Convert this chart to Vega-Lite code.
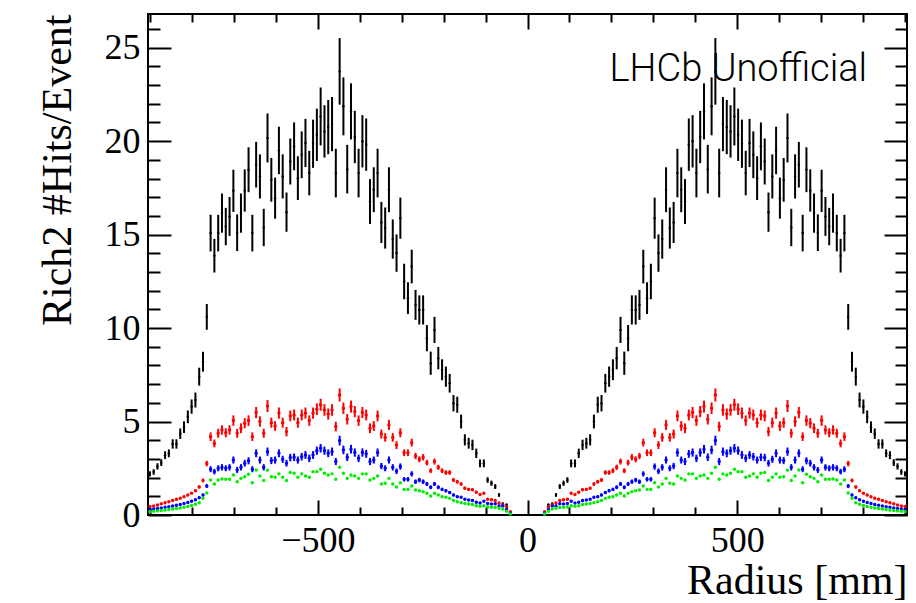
{
"$schema":"https://vega.github.io/schema/vega-lite/v6.json",
"width":759,"height":501,
"autosize":"none",
"padding":{"left":148,"top":14,"right":9,"bottom":88},
"background":"white",
"config":{"view":{"stroke":"black","strokeWidth":2},
"axis":{"labelFont":"Liberation Serif","titleFont":"Liberation Serif","labelColor":"black","titleColor":"black","tickColor":"black","domain":false,"grid":false,"titleFontWeight":"normal","tickWidth":2,"labelFontSize":36,"titleFontSize":42}},
"data":{"values":[
{"x":-900.5,"k":2.2,"ek":0.14,"r":0.45,"er":0.03,"b":0.30,"eb":0.02,"g":0.18},
{"x":-891.5,"k":2.3,"ek":0.15,"r":0.48,"er":0.03,"b":0.32,"eb":0.02,"g":0.20},
{"x":-882.4,"k":2.6,"ek":0.17,"r":0.54,"er":0.03,"b":0.35,"eb":0.02,"g":0.22},
{"x":-873.4,"k":2.8,"ek":0.18,"r":0.60,"er":0.03,"b":0.38,"eb":0.02,"g":0.24},
{"x":-864.3,"k":3.2,"ek":0.21,"r":0.66,"er":0.04,"b":0.41,"eb":0.03,"g":0.26},
{"x":-855.3,"k":3.3,"ek":0.21,"r":0.71,"er":0.04,"b":0.44,"eb":0.03,"g":0.29},
{"x":-846.2,"k":3.8,"ek":0.25,"r":0.77,"er":0.04,"b":0.48,"eb":0.03,"g":0.32},
{"x":-837.2,"k":3.8,"ek":0.25,"r":0.84,"er":0.05,"b":0.52,"eb":0.03,"g":0.35},
{"x":-828.1,"k":4.35,"ek":0.28,"r":0.90,"er":0.05,"b":0.56,"eb":0.04,"g":0.38},
{"x":-819.1,"k":4.7,"ek":0.31,"r":0.98,"er":0.05,"b":0.61,"eb":0.04,"g":0.42},
{"x":-810.0,"k":5.25,"ek":0.34,"r":1.07,"er":0.06,"b":0.67,"eb":0.04,"g":0.46},
{"x":-801.0,"k":5.8,"ek":0.38,"r":1.17,"er":0.06,"b":0.74,"eb":0.05,"g":0.51},
{"x":-791.9,"k":6.15,"ek":0.4,"r":1.30,"er":0.07,"b":0.82,"eb":0.05,"g":0.57},
{"x":-782.9,"k":7.4,"ek":0.48,"r":1.50,"er":0.08,"b":0.92,"eb":0.06,"g":0.65},
{"x":-773.8,"k":8.2,"ek":0.53,"r":1.85,"er":0.1,"b":1.07,"eb":0.07,"g":0.90},
{"x":-764.8,"k":10.6,"ek":0.69,"r":2.75,"er":0.15,"b":1.55,"eb":0.1,"g":1.18},
{"x":-755.7,"k":15.08,"ek":0.98,"r":4.19,"er":0.23,"b":2.45,"eb":0.16,"g":1.87},
{"x":-746.7,"k":13.87,"ek":0.9,"r":3.83,"er":0.21,"b":2.32,"eb":0.15,"g":1.66},
{"x":-737.6,"k":15.08,"ek":0.98,"r":4.37,"er":0.24,"b":2.50,"eb":0.16,"g":1.87},
{"x":-728.6,"k":16.15,"ek":1.05,"r":4.55,"er":0.25,"b":2.55,"eb":0.17,"g":1.93},
{"x":-719.5,"k":15.43,"ek":1.0,"r":4.40,"er":0.24,"b":2.50,"eb":0.16,"g":1.91},
{"x":-710.5,"k":15.97,"ek":1.04,"r":4.55,"er":0.25,"b":2.55,"eb":0.17,"g":1.91},
{"x":-701.4,"k":17.34,"ek":1.13,"r":5.05,"er":0.28,"b":2.94,"eb":0.19,"g":2.14},
{"x":-692.4,"k":15.1,"ek":0.98,"r":4.37,"er":0.24,"b":2.41,"eb":0.16,"g":1.78},
{"x":-683.3,"k":16.15,"ek":1.05,"r":4.64,"er":0.26,"b":2.55,"eb":0.17,"g":1.96},
{"x":-674.3,"k":17.36,"ek":1.13,"r":4.91,"er":0.27,"b":2.77,"eb":0.18,"g":2.05},
{"x":-665.2,"k":18.47,"ek":1.2,"r":5.05,"er":0.28,"b":2.90,"eb":0.19,"g":2.18},
{"x":-656.2,"k":15.08,"ek":0.98,"r":4.19,"er":0.23,"b":2.45,"eb":0.16,"g":1.73},
{"x":-647.1,"k":18.74,"ek":1.22,"r":5.48,"er":0.3,"b":3.30,"eb":0.21,"g":2.41},
{"x":-638.1,"k":18.11,"ek":1.18,"r":5.00,"er":0.28,"b":2.94,"eb":0.19,"g":2.09},
{"x":-629.0,"k":15.38,"ek":1.0,"r":4.37,"er":0.24,"b":2.55,"eb":0.17,"g":1.84},
{"x":-620.0,"k":20.17,"ek":1.31,"r":5.83,"er":0.32,"b":3.39,"eb":0.22,"g":2.40},
{"x":-610.9,"k":17.93,"ek":1.17,"r":4.94,"er":0.27,"b":2.91,"eb":0.19,"g":2.05},
{"x":-601.9,"k":16.95,"ek":1.1,"r":4.76,"er":0.26,"b":2.94,"eb":0.19,"g":2.02},
{"x":-592.8,"k":19.5,"ek":1.27,"r":5.45,"er":0.3,"b":3.30,"eb":0.21,"g":2.20},
{"x":-583.8,"k":18.11,"ek":1.18,"r":4.94,"er":0.27,"b":2.98,"eb":0.19,"g":2.02},
{"x":-574.7,"k":16.2,"ek":1.05,"r":4.46,"er":0.25,"b":2.77,"eb":0.18,"g":1.84},
{"x":-565.7,"k":18.91,"ek":1.23,"r":5.30,"er":0.29,"b":3.07,"eb":0.2,"g":2.27},
{"x":-556.6,"k":19.72,"ek":1.28,"r":5.35,"er":0.29,"b":3.09,"eb":0.2,"g":2.23},
{"x":-547.6,"k":18.02,"ek":1.17,"r":4.94,"er":0.27,"b":2.94,"eb":0.19,"g":2.02},
{"x":-538.5,"k":19.27,"ek":1.25,"r":5.35,"er":0.29,"b":3.12,"eb":0.2,"g":2.20},
{"x":-529.5,"k":19.9,"ek":1.29,"r":5.45,"er":0.3,"b":3.21,"eb":0.21,"g":2.09},
{"x":-520.4,"k":18.29,"ek":1.19,"r":5.05,"er":0.28,"b":3.03,"eb":0.2,"g":2.02},
{"x":-511.4,"k":19.86,"ek":1.29,"r":5.45,"er":0.3,"b":3.21,"eb":0.21,"g":2.32},
{"x":-502.3,"k":20.34,"ek":1.4,"r":5.66,"er":0.31,"b":3.44,"eb":0.22,"g":2.32},
{"x":-493.3,"k":21.32,"ek":1.55,"r":5.90,"er":0.32,"b":3.57,"eb":0.23,"g":2.45},
{"x":-484.2,"k":20.52,"ek":1.4,"r":5.62,"er":0.31,"b":3.44,"eb":0.22,"g":2.23},
{"x":-475.2,"k":20.75,"ek":1.45,"r":5.40,"er":0.3,"b":3.30,"eb":0.21,"g":2.14},
{"x":-466.1,"k":20.91,"ek":1.45,"r":5.62,"er":0.31,"b":3.39,"eb":0.22,"g":2.20},
{"x":-457.1,"k":18.29,"ek":1.3,"r":4.73,"er":0.26,"b":2.86,"eb":0.19,"g":1.91},
{"x":-448.0,"k":23.73,"ek":1.78,"r":6.42,"er":0.35,"b":3.98,"eb":0.26,"g":2.55},
{"x":-439.0,"k":21.86,"ek":1.55,"r":5.71,"er":0.31,"b":3.48,"eb":0.23,"g":2.23},
{"x":-429.9,"k":18.5,"ek":1.3,"r":5.12,"er":0.28,"b":3.09,"eb":0.2,"g":1.96},
{"x":-420.9,"k":21.59,"ek":1.5,"r":5.80,"er":0.32,"b":3.52,"eb":0.23,"g":2.14},
{"x":-411.8,"k":20.22,"ek":1.4,"r":5.53,"er":0.3,"b":3.34,"eb":0.22,"g":2.09},
{"x":-402.8,"k":18.29,"ek":1.3,"r":5.05,"er":0.28,"b":3.03,"eb":0.2,"g":1.96},
{"x":-393.7,"k":19.99,"ek":1.4,"r":5.48,"er":0.3,"b":3.34,"eb":0.22,"g":2.20},
{"x":-384.7,"k":19.81,"ek":1.4,"r":5.35,"er":0.29,"b":3.27,"eb":0.21,"g":2.20},
{"x":-375.6,"k":16.77,"ek":1.2,"r":4.64,"er":0.26,"b":2.86,"eb":0.19,"g":1.87},
{"x":-366.6,"k":17.4,"ek":1.2,"r":4.76,"er":0.26,"b":2.94,"eb":0.19,"g":1.96},
{"x":-357.5,"k":18.29,"ek":1.3,"r":5.30,"er":0.29,"b":3.34,"eb":0.22,"g":2.09},
{"x":-348.5,"k":15.65,"ek":1.1,"r":4.33,"er":0.24,"b":2.62,"eb":0.17,"g":1.66},
{"x":-339.4,"k":15.35,"ek":1.1,"r":4.15,"er":0.23,"b":2.50,"eb":0.16,"g":1.70},
{"x":-330.4,"k":17.4,"ek":1.2,"r":4.82,"er":0.27,"b":2.94,"eb":0.19,"g":1.96},
{"x":-321.3,"k":14.76,"ek":1.05,"r":4.15,"er":0.23,"b":2.55,"eb":0.17,"g":1.66},
{"x":-312.3,"k":14.01,"ek":1.0,"r":3.74,"er":0.21,"b":2.34,"eb":0.15,"g":1.50},
{"x":-303.2,"k":15.88,"ek":1.1,"r":4.40,"er":0.24,"b":2.59,"eb":0.17,"g":1.73},
{"x":-294.2,"k":12.49,"ek":0.95,"r":3.33,"er":0.18,"b":1.91,"eb":0.12,"g":1.37},
{"x":-285.1,"k":11.6,"ek":0.85,"r":3.33,"er":0.18,"b":1.91,"eb":0.12,"g":1.37},
{"x":-276.1,"k":13.29,"ek":0.9,"r":3.87,"er":0.21,"b":2.20,"eb":0.14,"g":1.55},
{"x":-267.0,"k":11.24,"ek":0.8,"r":3.16,"er":0.17,"b":1.78,"eb":0.12,"g":1.34},
{"x":-258.0,"k":10.97,"ek":0.78,"r":2.98,"er":0.16,"b":1.87,"eb":0.12,"g":1.30},
{"x":-248.9,"k":10.97,"ek":0.78,"r":3.09,"er":0.17,"b":1.78,"eb":0.12,"g":1.25},
{"x":-239.9,"k":9.46,"ek":0.7,"r":2.80,"er":0.15,"b":1.66,"eb":0.11,"g":1.16},
{"x":-230.8,"k":8.12,"ek":0.62,"r":2.37,"er":0.13,"b":1.48,"eb":0.1,"g":1.02},
{"x":-221.8,"k":9.9,"ek":0.7,"r":2.86,"er":0.16,"b":1.66,"eb":0.11,"g":1.16},
{"x":-212.7,"k":8.39,"ek":0.6,"r":2.55,"er":0.14,"b":1.48,"eb":0.1,"g":1.07},
{"x":-203.7,"k":7.77,"ek":0.56,"r":2.37,"er":0.13,"b":1.37,"eb":0.09,"g":0.98},
{"x":-194.6,"k":7.4,"ek":0.54,"r":2.27,"er":0.12,"b":1.30,"eb":0.08,"g":0.95},
{"x":-185.6,"k":7.05,"ek":0.5,"r":2.27,"er":0.12,"b":1.20,"eb":0.08,"g":0.89},
{"x":-176.5,"k":5.98,"ek":0.44,"r":1.87,"er":0.1,"b":1.07,"eb":0.07,"g":0.77},
{"x":-167.5,"k":5.9,"ek":0.43,"r":1.78,"er":0.1,"b":0.98,"eb":0.06,"g":0.71},
{"x":-158.4,"k":5.0,"ek":0.37,"r":1.66,"er":0.09,"b":0.95,"eb":0.06,"g":0.66},
{"x":-149.4,"k":4.02,"ek":0.3,"r":1.43,"er":0.08,"b":0.84,"eb":0.05,"g":0.62},
{"x":-140.3,"k":3.84,"ek":0.29,"r":1.37,"er":0.08,"b":0.80,"eb":0.05,"g":0.59},
{"x":-131.3,"k":3.75,"ek":0.28,"r":1.35,"er":0.07,"b":0.77,"eb":0.05,"g":0.56},
{"x":-122.2,"k":3.3,"ek":0.25,"r":1.22,"er":0.07,"b":0.68,"eb":0.04,"g":0.50},
{"x":-113.2,"k":2.76,"ek":0.21,"r":1.10,"er":0.06,"b":0.64,"eb":0.04,"g":0.47},
{"x":-104.1,"k":2.76,"ek":0.21,"r":1.16,"er":0.06,"b":0.74,"eb":0.05,"g":0.50},
{"x":-95.1,"k":1.87,"ek":0.15,"r":0.84,"er":0.05,"b":0.62,"eb":0.04,"g":0.43},
{"x":-86.0,"k":1.7,"ek":0.14,"r":0.82,"er":0.05,"b":0.59,"eb":0.04,"g":0.41},
{"x":-77.0,"k":1.52,"ek":0.13,"r":0.77,"er":0.04,"b":0.60,"eb":0.04,"g":0.40},
{"x":-67.9,"k":1.07,"ek":0.1,"r":0.64,"er":0.04,"b":0.48,"eb":0.03,"g":0.36},
{"x":-58.9,"k":0.6,"ek":0.07,"r":0.53,"er":0.03,"b":0.48,"eb":0.03,"g":0.32},
{"x":-49.8,"k":0.55,"ek":0.06,"r":0.43,"er":0.02,"b":0.30,"eb":0.02,"g":0.20},
{"x":-40.8,"k":0.1,"ek":0.03,"r":0.18,"er":0.01,"b":0.09,"eb":0.01,"g":0.05},
{"x":40.8,"k":0.1,"ek":0.03,"r":0.18,"er":0.01,"b":0.09,"eb":0.01,"g":0.05},
{"x":49.8,"k":0.55,"ek":0.06,"r":0.43,"er":0.02,"b":0.30,"eb":0.02,"g":0.20},
{"x":58.9,"k":0.6,"ek":0.07,"r":0.53,"er":0.03,"b":0.48,"eb":0.03,"g":0.32},
{"x":67.9,"k":1.07,"ek":0.1,"r":0.64,"er":0.04,"b":0.48,"eb":0.03,"g":0.36},
{"x":77.0,"k":1.52,"ek":0.13,"r":0.77,"er":0.04,"b":0.60,"eb":0.04,"g":0.40},
{"x":86.0,"k":1.7,"ek":0.14,"r":0.82,"er":0.05,"b":0.59,"eb":0.04,"g":0.41},
{"x":95.1,"k":1.87,"ek":0.15,"r":0.84,"er":0.05,"b":0.62,"eb":0.04,"g":0.43},
{"x":104.1,"k":2.76,"ek":0.21,"r":1.16,"er":0.06,"b":0.74,"eb":0.05,"g":0.50},
{"x":113.2,"k":2.76,"ek":0.21,"r":1.10,"er":0.06,"b":0.64,"eb":0.04,"g":0.47},
{"x":122.2,"k":3.3,"ek":0.25,"r":1.22,"er":0.07,"b":0.68,"eb":0.04,"g":0.50},
{"x":131.3,"k":3.75,"ek":0.28,"r":1.35,"er":0.07,"b":0.77,"eb":0.05,"g":0.56},
{"x":140.3,"k":3.84,"ek":0.29,"r":1.37,"er":0.08,"b":0.80,"eb":0.05,"g":0.59},
{"x":149.4,"k":4.02,"ek":0.3,"r":1.43,"er":0.08,"b":0.84,"eb":0.05,"g":0.62},
{"x":158.4,"k":5.0,"ek":0.37,"r":1.66,"er":0.09,"b":0.95,"eb":0.06,"g":0.66},
{"x":167.5,"k":5.9,"ek":0.43,"r":1.78,"er":0.1,"b":0.98,"eb":0.06,"g":0.71},
{"x":176.5,"k":5.98,"ek":0.44,"r":1.87,"er":0.1,"b":1.07,"eb":0.07,"g":0.77},
{"x":185.6,"k":7.05,"ek":0.5,"r":2.27,"er":0.12,"b":1.20,"eb":0.08,"g":0.89},
{"x":194.6,"k":7.4,"ek":0.54,"r":2.27,"er":0.12,"b":1.30,"eb":0.08,"g":0.95},
{"x":203.7,"k":7.77,"ek":0.56,"r":2.37,"er":0.13,"b":1.37,"eb":0.09,"g":0.98},
{"x":212.7,"k":8.39,"ek":0.6,"r":2.55,"er":0.14,"b":1.48,"eb":0.1,"g":1.07},
{"x":221.8,"k":9.9,"ek":0.7,"r":2.86,"er":0.16,"b":1.66,"eb":0.11,"g":1.16},
{"x":230.8,"k":8.12,"ek":0.62,"r":2.37,"er":0.13,"b":1.48,"eb":0.1,"g":1.02},
{"x":239.9,"k":9.46,"ek":0.7,"r":2.80,"er":0.15,"b":1.66,"eb":0.11,"g":1.16},
{"x":248.9,"k":10.97,"ek":0.78,"r":3.09,"er":0.17,"b":1.78,"eb":0.12,"g":1.25},
{"x":258.0,"k":10.97,"ek":0.78,"r":2.98,"er":0.16,"b":1.87,"eb":0.12,"g":1.30},
{"x":267.0,"k":11.24,"ek":0.8,"r":3.16,"er":0.17,"b":1.78,"eb":0.12,"g":1.34},
{"x":276.1,"k":13.29,"ek":0.9,"r":3.87,"er":0.21,"b":2.20,"eb":0.14,"g":1.55},
{"x":285.1,"k":11.6,"ek":0.85,"r":3.33,"er":0.18,"b":1.91,"eb":0.12,"g":1.37},
{"x":294.2,"k":12.49,"ek":0.95,"r":3.33,"er":0.18,"b":1.91,"eb":0.12,"g":1.37},
{"x":303.2,"k":15.88,"ek":1.1,"r":4.40,"er":0.24,"b":2.59,"eb":0.17,"g":1.73},
{"x":312.3,"k":14.01,"ek":1.0,"r":3.74,"er":0.21,"b":2.34,"eb":0.15,"g":1.50},
{"x":321.3,"k":14.76,"ek":1.05,"r":4.15,"er":0.23,"b":2.55,"eb":0.17,"g":1.66},
{"x":330.4,"k":17.4,"ek":1.2,"r":4.82,"er":0.27,"b":2.94,"eb":0.19,"g":1.96},
{"x":339.4,"k":15.35,"ek":1.1,"r":4.15,"er":0.23,"b":2.50,"eb":0.16,"g":1.70},
{"x":348.5,"k":15.65,"ek":1.1,"r":4.33,"er":0.24,"b":2.62,"eb":0.17,"g":1.66},
{"x":357.5,"k":18.29,"ek":1.3,"r":5.30,"er":0.29,"b":3.34,"eb":0.22,"g":2.09},
{"x":366.6,"k":17.4,"ek":1.2,"r":4.76,"er":0.26,"b":2.94,"eb":0.19,"g":1.96},
{"x":375.6,"k":16.77,"ek":1.2,"r":4.64,"er":0.26,"b":2.86,"eb":0.19,"g":1.87},
{"x":384.7,"k":19.81,"ek":1.4,"r":5.35,"er":0.29,"b":3.27,"eb":0.21,"g":2.20},
{"x":393.7,"k":19.99,"ek":1.4,"r":5.48,"er":0.3,"b":3.34,"eb":0.22,"g":2.20},
{"x":402.8,"k":18.29,"ek":1.3,"r":5.05,"er":0.28,"b":3.03,"eb":0.2,"g":1.96},
{"x":411.8,"k":20.22,"ek":1.4,"r":5.53,"er":0.3,"b":3.34,"eb":0.22,"g":2.09},
{"x":420.9,"k":21.59,"ek":1.5,"r":5.80,"er":0.32,"b":3.52,"eb":0.23,"g":2.14},
{"x":429.9,"k":18.5,"ek":1.3,"r":5.12,"er":0.28,"b":3.09,"eb":0.2,"g":1.96},
{"x":439.0,"k":21.86,"ek":1.55,"r":5.71,"er":0.31,"b":3.48,"eb":0.23,"g":2.23},
{"x":448.0,"k":23.73,"ek":1.78,"r":6.42,"er":0.35,"b":3.98,"eb":0.26,"g":2.55},
{"x":457.1,"k":18.29,"ek":1.3,"r":4.73,"er":0.26,"b":2.86,"eb":0.19,"g":1.91},
{"x":466.1,"k":20.91,"ek":1.45,"r":5.62,"er":0.31,"b":3.39,"eb":0.22,"g":2.20},
{"x":475.2,"k":20.75,"ek":1.45,"r":5.40,"er":0.3,"b":3.30,"eb":0.21,"g":2.14},
{"x":484.2,"k":20.52,"ek":1.4,"r":5.62,"er":0.31,"b":3.44,"eb":0.22,"g":2.23},
{"x":493.3,"k":21.32,"ek":1.55,"r":5.90,"er":0.32,"b":3.57,"eb":0.23,"g":2.45},
{"x":502.3,"k":20.34,"ek":1.4,"r":5.66,"er":0.31,"b":3.44,"eb":0.22,"g":2.32},
{"x":511.4,"k":19.86,"ek":1.29,"r":5.45,"er":0.3,"b":3.21,"eb":0.21,"g":2.32},
{"x":520.4,"k":18.29,"ek":1.19,"r":5.05,"er":0.28,"b":3.03,"eb":0.2,"g":2.02},
{"x":529.5,"k":19.9,"ek":1.29,"r":5.45,"er":0.3,"b":3.21,"eb":0.21,"g":2.09},
{"x":538.5,"k":19.27,"ek":1.25,"r":5.35,"er":0.29,"b":3.12,"eb":0.2,"g":2.20},
{"x":547.6,"k":18.02,"ek":1.17,"r":4.94,"er":0.27,"b":2.94,"eb":0.19,"g":2.02},
{"x":556.6,"k":19.72,"ek":1.28,"r":5.35,"er":0.29,"b":3.09,"eb":0.2,"g":2.23},
{"x":565.7,"k":18.91,"ek":1.23,"r":5.30,"er":0.29,"b":3.07,"eb":0.2,"g":2.27},
{"x":574.7,"k":16.2,"ek":1.05,"r":4.46,"er":0.25,"b":2.77,"eb":0.18,"g":1.84},
{"x":583.8,"k":18.11,"ek":1.18,"r":4.94,"er":0.27,"b":2.98,"eb":0.19,"g":2.02},
{"x":592.8,"k":19.5,"ek":1.27,"r":5.45,"er":0.3,"b":3.30,"eb":0.21,"g":2.20},
{"x":601.9,"k":16.95,"ek":1.1,"r":4.76,"er":0.26,"b":2.94,"eb":0.19,"g":2.02},
{"x":610.9,"k":17.93,"ek":1.17,"r":4.94,"er":0.27,"b":2.91,"eb":0.19,"g":2.05},
{"x":620.0,"k":20.17,"ek":1.31,"r":5.83,"er":0.32,"b":3.39,"eb":0.22,"g":2.40},
{"x":629.0,"k":15.38,"ek":1.0,"r":4.37,"er":0.24,"b":2.55,"eb":0.17,"g":1.84},
{"x":638.1,"k":18.11,"ek":1.18,"r":5.00,"er":0.28,"b":2.94,"eb":0.19,"g":2.09},
{"x":647.1,"k":18.74,"ek":1.22,"r":5.48,"er":0.3,"b":3.30,"eb":0.21,"g":2.41},
{"x":656.2,"k":15.08,"ek":0.98,"r":4.19,"er":0.23,"b":2.45,"eb":0.16,"g":1.73},
{"x":665.2,"k":18.47,"ek":1.2,"r":5.05,"er":0.28,"b":2.90,"eb":0.19,"g":2.18},
{"x":674.3,"k":17.36,"ek":1.13,"r":4.91,"er":0.27,"b":2.77,"eb":0.18,"g":2.05},
{"x":683.3,"k":16.15,"ek":1.05,"r":4.64,"er":0.26,"b":2.55,"eb":0.17,"g":1.96},
{"x":692.4,"k":15.1,"ek":0.98,"r":4.37,"er":0.24,"b":2.41,"eb":0.16,"g":1.78},
{"x":701.4,"k":17.34,"ek":1.13,"r":5.05,"er":0.28,"b":2.94,"eb":0.19,"g":2.14},
{"x":710.5,"k":15.97,"ek":1.04,"r":4.55,"er":0.25,"b":2.55,"eb":0.17,"g":1.91},
{"x":719.5,"k":15.43,"ek":1.0,"r":4.40,"er":0.24,"b":2.50,"eb":0.16,"g":1.91},
{"x":728.6,"k":16.15,"ek":1.05,"r":4.55,"er":0.25,"b":2.55,"eb":0.17,"g":1.93},
{"x":737.6,"k":15.08,"ek":0.98,"r":4.37,"er":0.24,"b":2.50,"eb":0.16,"g":1.87},
{"x":746.7,"k":13.87,"ek":0.9,"r":3.83,"er":0.21,"b":2.32,"eb":0.15,"g":1.66},
{"x":755.7,"k":15.08,"ek":0.98,"r":4.19,"er":0.23,"b":2.45,"eb":0.16,"g":1.87},
{"x":764.8,"k":10.6,"ek":0.69,"r":2.75,"er":0.15,"b":1.55,"eb":0.1,"g":1.18},
{"x":773.8,"k":8.2,"ek":0.53,"r":1.85,"er":0.1,"b":1.07,"eb":0.07,"g":0.90},
{"x":782.9,"k":7.4,"ek":0.48,"r":1.50,"er":0.08,"b":0.92,"eb":0.06,"g":0.65},
{"x":791.9,"k":6.15,"ek":0.4,"r":1.30,"er":0.07,"b":0.82,"eb":0.05,"g":0.57},
{"x":801.0,"k":5.8,"ek":0.38,"r":1.17,"er":0.06,"b":0.74,"eb":0.05,"g":0.51},
{"x":810.0,"k":5.25,"ek":0.34,"r":1.07,"er":0.06,"b":0.67,"eb":0.04,"g":0.46},
{"x":819.1,"k":4.7,"ek":0.31,"r":0.98,"er":0.05,"b":0.61,"eb":0.04,"g":0.42},
{"x":828.1,"k":4.35,"ek":0.28,"r":0.90,"er":0.05,"b":0.56,"eb":0.04,"g":0.38},
{"x":837.2,"k":3.8,"ek":0.25,"r":0.84,"er":0.05,"b":0.52,"eb":0.03,"g":0.35},
{"x":846.2,"k":3.8,"ek":0.25,"r":0.77,"er":0.04,"b":0.48,"eb":0.03,"g":0.32},
{"x":855.3,"k":3.3,"ek":0.21,"r":0.71,"er":0.04,"b":0.44,"eb":0.03,"g":0.29},
{"x":864.3,"k":3.2,"ek":0.21,"r":0.66,"er":0.04,"b":0.41,"eb":0.03,"g":0.26},
{"x":873.4,"k":2.8,"ek":0.18,"r":0.60,"er":0.03,"b":0.38,"eb":0.02,"g":0.24},
{"x":882.4,"k":2.6,"ek":0.17,"r":0.54,"er":0.03,"b":0.35,"eb":0.02,"g":0.22},
{"x":891.5,"k":2.3,"ek":0.15,"r":0.48,"er":0.03,"b":0.32,"eb":0.02,"g":0.20},
{"x":900.5,"k":2.2,"ek":0.14,"r":0.45,"er":0.03,"b":0.30,"eb":0.02,"g":0.18}
]},
"resolve":{"axis":{"x":"independent","y":"independent"}},
"layer":[
{"mark":{"type":"errorbar","ticks":false,"thickness":2,"color":"black"},
 "encoding":{
  "x":{"field":"x","type":"quantitative","scale":{"domain":[-905,905],"nice":false,"zero":false},
   "axis":{"orient":"bottom","offset":-15,"values":[-500,0,500],"tickSize":15,"labelPadding":8,"title":"Radius [mm]","titleAnchor":"end","titlePadding":2,"format":"d"}},
  "y":{"field":"k","type":"quantitative","scale":{"domain":[0,26.8],"nice":false,"zero":false},
   "axis":{"orient":"left","offset":-23,"values":[0,5,10,15,20,25],"tickSize":23,"labelPadding":8,"title":"Rich2 #Hits/Event","titleAnchor":"end","titlePadding":25}},
  "yError":{"field":"ek"}}},
{"mark":{"type":"point","filled":true,"size":6,"color":"black","opacity":1},
 "encoding":{
  "x":{"field":"x","type":"quantitative","axis":{"orient":"bottom","offset":-8,"values":[-900,-800,-700,-600,-400,-300,-200,-100,100,200,300,400,600,700,800,900],"tickSize":8,"labels":false,"title":null}},
  "y":{"field":"k","type":"quantitative","axis":{"orient":"left","offset":-12,"values":[1,2,3,4,6,7,8,9,11,12,13,14,16,17,18,19,21,22,23,24,26],"tickSize":12,"labels":false,"title":null}}}},
{"mark":{"type":"errorbar","ticks":false,"thickness":2,"color":"#ff0000"},
 "encoding":{
  "x":{"field":"x","type":"quantitative","axis":{"orient":"top","offset":-15,"values":[-500,0,500],"tickSize":15,"labels":false,"title":null}},
  "y":{"field":"r","type":"quantitative","axis":{"orient":"right","offset":-23,"values":[0,5,10,15,20,25],"tickSize":23,"labels":false,"title":null}},
  "yError":{"field":"er"}}},
{"mark":{"type":"point","filled":true,"size":12,"color":"#ff0000","opacity":1},
 "encoding":{
  "x":{"field":"x","type":"quantitative","axis":{"orient":"top","offset":-8,"values":[-900,-800,-700,-600,-400,-300,-200,-100,100,200,300,400,600,700,800,900],"tickSize":8,"labels":false,"title":null}},
  "y":{"field":"r","type":"quantitative","axis":{"orient":"right","offset":-12,"values":[1,2,3,4,6,7,8,9,11,12,13,14,16,17,18,19,21,22,23,24,26],"tickSize":12,"labels":false,"title":null}}}},
{"mark":{"type":"errorbar","ticks":false,"thickness":2,"color":"#0000ff"},
 "encoding":{
  "x":{"field":"x","type":"quantitative","axis":null},
  "y":{"field":"b","type":"quantitative","axis":null},
  "yError":{"field":"eb"}}},
{"mark":{"type":"point","filled":true,"size":12,"color":"#0000ff","opacity":1},
 "encoding":{
  "x":{"field":"x","type":"quantitative","axis":null},
  "y":{"field":"b","type":"quantitative","axis":null}}},
{"mark":{"type":"point","filled":true,"size":12,"color":"#00ee00","opacity":1},
 "encoding":{
  "x":{"field":"x","type":"quantitative","axis":null},
  "y":{"field":"g","type":"quantitative","axis":null}}},
{"data":{"values":[{"label":"LHCb Unofficial"}]},
 "mark":{"type":"text","font":"Roboto","fontWeight":300,"fontSize":38,"align":"right","baseline":"alphabetic","color":"black"},
 "encoding":{
  "x":{"datum":810,"type":"quantitative","axis":null},
  "y":{"datum":23.2,"type":"quantitative","axis":null},
  "text":{"field":"label"}}}
]
}
